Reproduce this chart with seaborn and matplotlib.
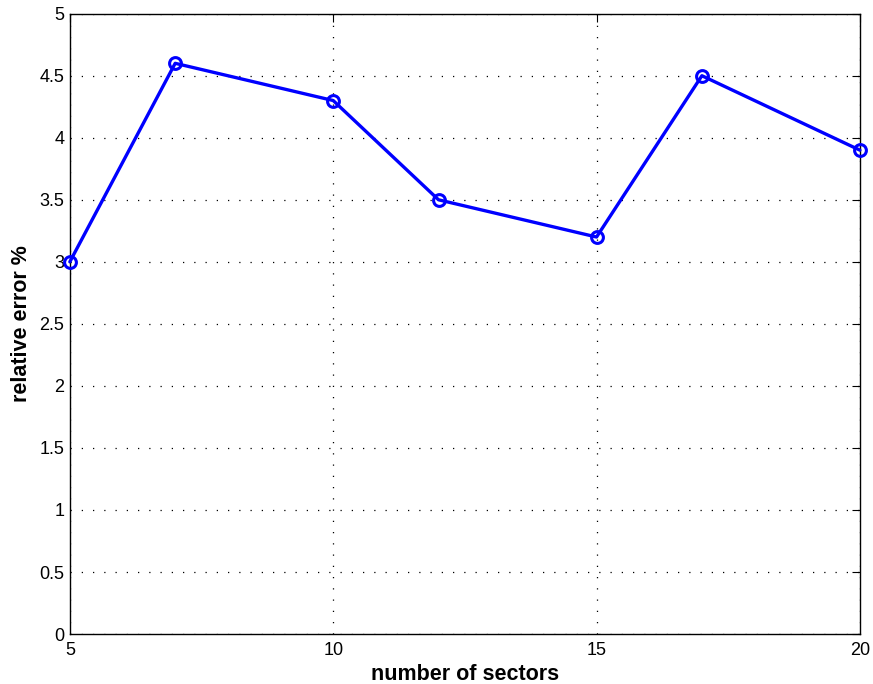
import numpy as np
import pandas as pd
import matplotlib
matplotlib.use("Agg")
import matplotlib.pyplot as plt
import seaborn as sns

sectors = [5, 7, 10, 12, 15, 17, 20]
rel_error = [3.0, 4.6, 4.3, 3.5, 3.2, 4.5, 3.9]

x_ticks = [5, 10, 15, 20]
y_ticks = np.arange(0, 5.01, 0.5)
y_tick_labels = ["0", "0.5", "1", "1.5", "2", "2.5", "3", "3.5", "4", "4.5", "5"]

sns.set_style("white")
plt.rcParams["font.family"] = ["Liberation Sans", "DejaVu Sans"]

df = pd.DataFrame({"sectors": sectors, "rel_error": rel_error})

fig = plt.figure(figsize=(8.73, 6.84), dpi=100)
ax = fig.add_axes([0.080, 0.073, 0.905, 0.907])

sns.lineplot(
    data=df,
    x="sectors",
    y="rel_error",
    ax=ax,
    color="#0000ff",
    linewidth=2.4,
    marker="o",
    markersize=8.5,
    markerfacecolor="none",
    markeredgecolor="#0000ff",
    markeredgewidth=2.2,
    zorder=3,
    clip_on=False,
)

ax.set_xlim(5, 20)
ax.set_ylim(0, 5)
ax.set_xticks(x_ticks)
ax.set_xticklabels([str(t) for t in x_ticks])
ax.set_yticks(y_ticks)
ax.set_yticklabels(y_tick_labels)

ax.grid(True, linestyle=(0, (1, 8)), color="black", linewidth=0.9)
ax.tick_params(direction="in", length=6, width=0.8, top=True, right=True,
               labelsize=13, colors="black")
ax.tick_params(axis="x", pad=6)
ax.tick_params(axis="y", pad=4)
for spine in ax.spines.values():
    spine.set_visible(True)
    spine.set_color("black")
    spine.set_linewidth(1.0)

ax.set_xlabel("number of sectors", fontsize=15.5, fontweight="bold",
              color="black", labelpad=3)
ax.set_ylabel("relative error %", fontsize=15.5, fontweight="bold",
              color="black", labelpad=5)

fig.savefig("out.png", dpi=100)
